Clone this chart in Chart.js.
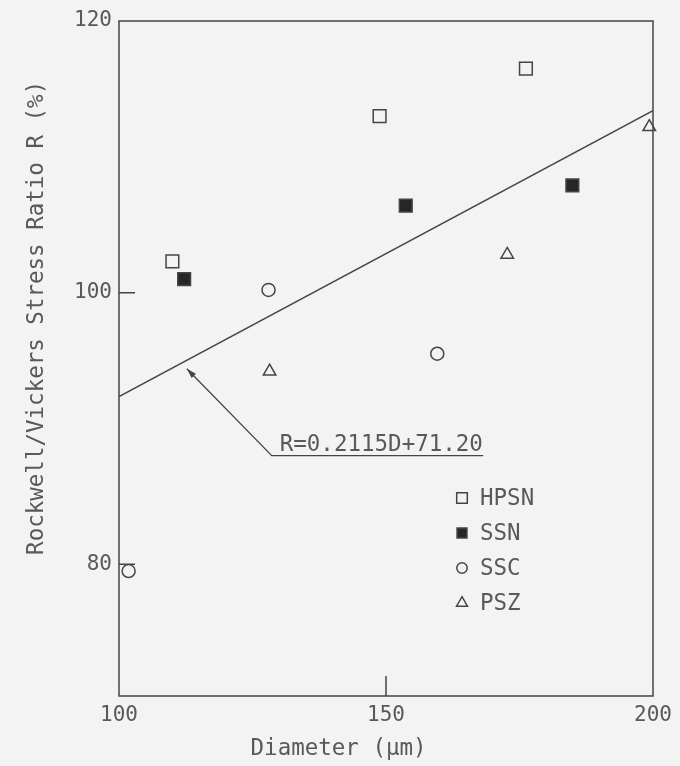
<!DOCTYPE html>
<html>
<head>
<meta charset="utf-8">
<script src="https://cdn.jsdelivr.net/npm/chart.js@4/dist/chart.umd.min.js"></script>
<style>
  html, body { margin: 0; padding: 0; background: #f4f3f4; }
  canvas { display: block; }
</style>
</head>
<body>
<canvas id="chart" width="680" height="766"></canvas>
<script>
// values
const hpsnX = [110.0, 148.8, 176.2];
const hpsnY = [102.3, 113.0, 116.5];
const ssnX = [112.2, 153.7, 184.9];
const ssnY = [101.0, 106.4, 107.9];
const sscX = [101.8, 128.0, 159.6];
const sscY = [79.5, 100.2, 95.5];
const pszX = [128.2, 172.7, 199.3];
const pszY = [94.2, 102.8, 112.2];

// regression line R=0.2115D+71.20 at both ends of the axis
const fitX = [100, 200];
const fitY = [92.35, 113.4];
const fitLabel = "R=0.2115D+71.20";
const arrowTip = [112.7, 94.4];
const arrowElbow = [128.6, 88.0];
const arrowEnd = [168.2, 88.0];

const xTicks = [100, 150, 200];
const yTicks = [80, 100, 120];
const innerXTicks = [150];
const innerYTicks = [80, 100];

const seriesNames = ["HPSN", "SSN", "SSC", "PSZ"];

const INK = "#454545";
const TEXT = "#595959";
const FONT = "'DejaVu Sans Mono', monospace";

const toPoints = (xs, ys) => xs.map((x, i) => ({ x: x, y: ys[i] }));

const marker = (label, xs, ys, style, radius, filled) => ({
  label: label,
  data: toPoints(xs, ys),
  pointStyle: style,
  pointRadius: radius,
  pointHoverRadius: radius,
  pointBorderWidth: 1.5,
  pointBorderColor: INK,
  pointBackgroundColor: filled ? "#262626" : "rgba(0,0,0,0)",
  showLine: false,
  clip: false,
});

const decorations = {
  id: "decorations",
  afterDatasetsDraw(chart) {
    const { ctx, chartArea: a } = chart;
    const x = chart.scales.x;
    const y = chart.scales.y;
    ctx.save();
    ctx.strokeStyle = INK;
    ctx.lineWidth = 1.5;
    ctx.strokeRect(a.left, a.top, a.width, a.height);

    // ticks point into the plot
    ctx.beginPath();
    innerYTicks.forEach((v) => {
      const py = y.getPixelForValue(v);
      ctx.moveTo(a.left, py);
      ctx.lineTo(a.left + 16, py);
    });
    innerXTicks.forEach((v) => {
      const px = x.getPixelForValue(v);
      ctx.moveTo(px, a.bottom);
      ctx.lineTo(px, a.bottom - 20);
    });
    ctx.stroke();

    // leader from the equation to the fit line
    const tx = x.getPixelForValue(arrowTip[0]);
    const ty = y.getPixelForValue(arrowTip[1]);
    const ex = x.getPixelForValue(arrowElbow[0]);
    const ey = y.getPixelForValue(arrowElbow[1]);
    const fx = x.getPixelForValue(arrowEnd[0]);
    ctx.lineWidth = 1.3;
    ctx.beginPath();
    ctx.moveTo(tx, ty);
    ctx.lineTo(ex, ey);
    ctx.lineTo(fx, ey);
    ctx.stroke();
    const ang = Math.atan2(ty - ey, tx - ex);
    ctx.fillStyle = INK;
    ctx.beginPath();
    ctx.moveTo(tx, ty);
    ctx.lineTo(tx - 10 * Math.cos(ang) + 3 * Math.sin(ang), ty - 10 * Math.sin(ang) - 3 * Math.cos(ang));
    ctx.lineTo(tx - 10 * Math.cos(ang) - 3 * Math.sin(ang), ty - 10 * Math.sin(ang) + 3 * Math.cos(ang));
    ctx.closePath();
    ctx.fill();

    ctx.font = "22.5px " + FONT;
    ctx.fillStyle = TEXT;
    ctx.textBaseline = "alphabetic";
    ctx.textAlign = "left";
    ctx.fillText(fitLabel, ex + 8, ey - 5);

    // legend inside the plot
    const legendSizes = [7.5, 7, 5.2, 6.3];
    chart.data.datasets.slice(0, 4).forEach((ds, i) => {
      const ly = 498 + i * 35;
      ctx.strokeStyle = INK;
      ctx.fillStyle = ds.pointBackgroundColor;
      ctx.lineWidth = 1.5;
      Chart.helpers.drawPoint(ctx, {
        pointStyle: ds.pointStyle,
        radius: legendSizes[i],
        borderWidth: 1.5,
        rotation: 0,
      }, 462, ly);
      ctx.fillStyle = TEXT;
      ctx.textBaseline = "middle";
      ctx.fillText(seriesNames[i], 480, ly + 1);
    });
    ctx.restore();
  },
};

new Chart(document.getElementById("chart"), {
  type: "scatter",
  data: {
    datasets: [
      marker(seriesNames[0], hpsnX, hpsnY, "rect", 9, false),
      marker(seriesNames[1], ssnX, ssnY, "rect", 9, true),
      marker(seriesNames[2], sscX, sscY, "circle", 6.5, false),
      marker(seriesNames[3], pszX, pszY, "triangle", 7.2, false),
      {
        label: "fit",
        data: toPoints(fitX, fitY),
        showLine: true,
        borderColor: INK,
        borderWidth: 1.5,
        pointRadius: 0,
        fill: false,
      },
    ],
  },
  options: {
    responsive: false,
    animation: false,
    layout: { padding: { top: 21, right: 27, left: 0, bottom: 0 } },
    plugins: {
      legend: { display: false },
      tooltip: { enabled: false },
    },
    scales: {
      x: {
        type: "linear",
        min: 100,
        max: 200,
        afterBuildTicks: (s) => { s.ticks = xTicks.map((v) => ({ value: v })); },
        afterFit: (s) => { s.height = 70; },
        grid: { display: false, drawTicks: false },
        border: { display: false },
        ticks: {
          autoSkip: false,
          maxRotation: 0,
          padding: 7,
          color: TEXT,
          font: { family: FONT, size: 21 },
        },
        title: {
          display: true,
          // trailing spaces pull the title left, as in the figure
          text: "Diameter (\u03bcm)       ",
          color: TEXT,
          padding: { top: 0, bottom: 3 },
          font: { family: FONT, size: 22.5 },
        },
      },
      y: {
        type: "linear",
        min: 70.3,
        max: 120,
        afterBuildTicks: (s) => { s.ticks = yTicks.map((v) => ({ value: v })); },
        afterFit: (s) => { s.width = 119; },
        grid: { display: false, drawTicks: false },
        border: { display: false },
        ticks: {
          autoSkip: false,
          padding: 7,
          color: TEXT,
          font: { family: FONT, size: 21 },
        },
        title: {
          display: true,
          text: "      Rockwell/Vickers Stress Ratio R (%)",
          color: TEXT,
          padding: { top: 24, bottom: 0 },
          font: { family: FONT, size: 22.5 },
        },
      },
    },
  },
  plugins: [decorations],
});
</script>
</body>
</html>
